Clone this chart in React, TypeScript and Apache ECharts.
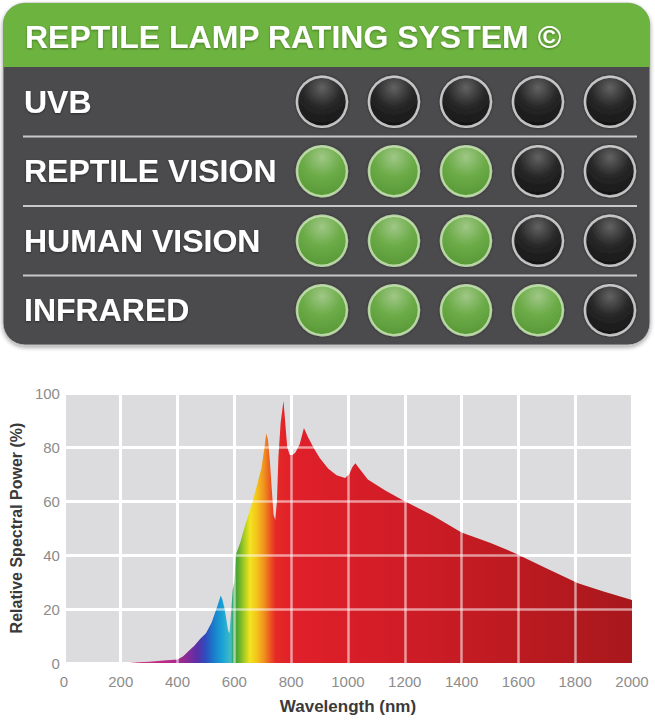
import React, { useEffect, useRef } from "react";
import * as echarts from "echarts";

// ---------- data ----------
const TITLE = "REPTILE LAMP RATING SYSTEM ©";
const ROWS = ["UVB", "REPTILE VISION", "HUMAN VISION", "INFRARED"];
const RATINGS = [0, 3, 3, 4];
const MAX_RATING = 5;

const WAVELENGTH = [
  230, 260, 300, 350, 400, 420, 440, 460, 480, 500, 520, 540, 552, 558, 565, 572, 578, 583, 588, 594,
  600, 605, 612, 622, 635, 650, 665, 680, 695, 705, 712, 718, 725, 732, 738, 744, 750, 755, 763, 773,
  780, 786, 795, 805, 815, 830, 845, 860, 880, 900, 930, 960, 990, 1005, 1015, 1026, 1040, 1070, 1130, 1190,
  1300, 1400, 1500, 1590, 1700, 1810, 1900, 2000,
];
const POWER = [
  0, 0.3, 0.5, 0.9, 1.3, 2.5, 4.5, 6.5, 9, 11, 15, 21, 25, 23.5, 20.5, 16, 12, 11, 18, 27,
  30, 40, 42, 45, 50, 55, 60, 66, 72, 79, 85, 83, 75, 64, 55, 53, 60, 76, 89, 97,
  88, 80, 77, 77, 78, 81, 87, 83.5, 79.5, 76, 72, 69.5, 68.5, 70, 72.5, 74, 72, 68, 64, 60.5,
  54.5, 48.3, 44.5, 40.6, 35, 29.5, 26.5, 23.3,
];
const X_TICKS = [0, 200, 400, 600, 800, 1000, 1200, 1400, 1600, 1800, 2000];
const Y_TICKS = [0, 20, 40, 60, 80, 100];
const X_NAME = "Wavelength (nm)";
const Y_NAME = "Relative Spectral Power (%)";

// wavelength -> colour of the fill
const SPECTRUM: [number, string][] = [
  [230, "#d03a7c"],
  [380, "#b52a85"],
  [430, "#8c2a95"],
  [470, "#5a2fa8"],
  [500, "#2c4fc0"],
  [530, "#1a80cc"],
  [560, "#1aa5d5"],
  [588, "#45bcc4"],
  [598, "#2f9a3c"],
  [615, "#5fae2e"],
  [635, "#a8cc24"],
  [655, "#f2e41e"],
  [680, "#f4c21c"],
  [705, "#f0901e"],
  [725, "#ec5a22"],
  [745, "#e52a26"],
  [800, "#e0202a"],
  [1100, "#d41d27"],
  [2000, "#a8181c"],
];

// ---------- layout ----------
const W = 655;
const H = 720;
const PANEL = { x: 3, y: 3, w: 647, h: 342, r: 22, header: 64 };
const PGRID = { left: 286, right: 9, top: 67, bottom: H - 345 };
const SGRID = { left: 53, right: 23, top: 393, bottom: 57 };

const BOLD_FONT = "'Liberation Sans', Arial, sans-serif";
const AXIS_FONT = "'Liberation Sans', Arial, sans-serif";

export default function App() {
  const ref = useRef<HTMLDivElement>(null);

  useEffect(() => {
    if (!ref.current) return;
    const chart = echarts.init(ref.current, undefined, { renderer: "svg" });

    const xmin = WAVELENGTH[0];
    const xmax = WAVELENGTH[WAVELENGTH.length - 1];
    const stops = SPECTRUM.map(([nm, c]) => ({
      offset: Math.min(1, Math.max(0, (nm - xmin) / (xmax - xmin))),
      color: c,
    }));

    const filled: [number, string][] = [];
    const empty: [number, string][] = [];
    ROWS.forEach((row, r) => {
      for (let i = 1; i <= MAX_RATING; i++) {
        if (i <= RATINGS[r]) filled.push([i, row]);
        else empty.push([i, row]);
      }
    });

    const rowH = (H - PGRID.top - PGRID.bottom) / ROWS.length;
    const separators = ROWS.slice(1).map((_, k) => {
      const y = PGRID.top + rowH * (k + 1);
      return {
        type: "line",
        z: -5,
        shape: { x1: 23, y1: y, x2: 637, y2: y },
        style: { stroke: "#c9c9c9", lineWidth: 2 },
      };
    });

    chart.setOption({
      animation: false,
      title: {
        text: TITLE,
        left: 20,
        top: 16,
        textStyle: {
          color: "#ffffff",
          fontFamily: BOLD_FONT,
          fontWeight: "bold",
          fontSize: 32,
          textShadowColor: "rgba(0,0,0,0.35)",
          textShadowBlur: 2,
          textShadowOffsetY: 1,
        },
      },
      graphic: [
        {
          type: "rect",
          z: -10,
          shape: { x: PANEL.x, y: PANEL.y, width: PANEL.w, height: PANEL.h, r: PANEL.r },
          style: {
            fill: "#4b4b4d",
            stroke: "#bdbdbd",
            lineWidth: 1,
            shadowBlur: 4,
            shadowColor: "rgba(0,0,0,0.35)",
            shadowOffsetY: 2,
          },
        },
        {
          type: "rect",
          z: -9,
          shape: {
            x: PANEL.x,
            y: PANEL.y,
            width: PANEL.w,
            height: PANEL.header,
            r: [PANEL.r, PANEL.r, 0, 0],
          },
          style: { fill: "#6db33f" },
        },
        ...separators,
      ],
      grid: [
        {
          left: SGRID.left,
          right: SGRID.right,
          top: SGRID.top,
          bottom: SGRID.bottom,
          show: true,
          backgroundColor: "#dcdcde",
          borderWidth: 0,
        },
        {
          left: PGRID.left,
          right: PGRID.right,
          top: PGRID.top,
          bottom: PGRID.bottom,
        },
      ],
      xAxis: [
        {
          type: "value",
          gridIndex: 0,
          min: X_TICKS[0],
          max: X_TICKS[X_TICKS.length - 1],
          interval: X_TICKS[1] - X_TICKS[0],
          axisLine: { show: false },
          axisTick: { show: false },
          axisLabel: {
            color: "#8c8c8c",
            fontSize: 15,
            margin: 11,
            fontFamily: AXIS_FONT,
            formatter: (v: number) => String(v),
          },
          splitLine: { show: true, lineStyle: { color: "#ffffff", width: 3 } },
          name: X_NAME,
          nameLocation: "middle",
          nameGap: 35,
          nameTextStyle: {
            color: "#3a3a3a",
            fontWeight: "bold",
            fontSize: 17,
            fontFamily: AXIS_FONT,
          },
        },
        {
          type: "value",
          gridIndex: 1,
          min: 0.5,
          max: MAX_RATING + 0.5,
          show: false,
        },
      ],
      yAxis: [
        {
          type: "value",
          gridIndex: 0,
          min: Y_TICKS[0],
          max: Y_TICKS[Y_TICKS.length - 1],
          interval: Y_TICKS[1] - Y_TICKS[0],
          axisLine: { show: false },
          axisTick: { show: false },
          axisLabel: {
            color: "#8c8c8c",
            fontSize: 15,
            margin: 4,
            fontFamily: AXIS_FONT,
            formatter: (v: number) => String(v),
          },
          splitLine: { show: true, lineStyle: { color: "#ffffff", width: 3 } },
          name: Y_NAME,
          nameLocation: "middle",
          nameGap: 31,
          nameTextStyle: {
            color: "#3a3a3a",
            fontWeight: "bold",
            fontSize: 16,
            fontFamily: AXIS_FONT,
          },
        },
        {
          type: "category",
          gridIndex: 1,
          data: ROWS,
          inverse: true,
          axisLine: { show: false },
          axisTick: { show: false },
          splitLine: { show: false },
          axisLabel: {
            color: "#ffffff",
            fontFamily: BOLD_FONT,
            fontWeight: "bold",
            fontSize: 32,
            align: "left",
            margin: PGRID.left - 24,
            textShadowColor: "rgba(0,0,0,0.45)",
            textShadowBlur: 2,
            textShadowOffsetY: 1,
          },
        },
      ],
      series: [
        {
          type: "line",
          xAxisIndex: 0,
          yAxisIndex: 0,
          data: WAVELENGTH.map((w, i) => [w, POWER[i]]),
          symbol: "none",
          lineStyle: { width: 0 },
          areaStyle: {
            opacity: 1,
            color: { type: "linear", x: 0, y: 0, x2: 1, y2: 0, colorStops: stops },
          },
          markLine: {
            silent: true,
            symbol: ["none", "none"],
            label: { show: false },
            lineStyle: { color: "rgba(255,255,255,0.55)", width: 2.5, type: "solid" },
            data: [
              ...X_TICKS.slice(1, -1).map((v) => ({ xAxis: v })),
              ...Y_TICKS.slice(1, -1).map((v) => ({ yAxis: v })),
            ],
          },
        },
        {
          type: "scatter",
          xAxisIndex: 1,
          yAxisIndex: 1,
          data: empty,
          symbolSize: 50,
          itemStyle: {
            color: {
              type: "radial",
              x: 0.5,
              y: 0.22,
              r: 0.85,
              colorStops: [
                { offset: 0, color: "#6a6a6a" },
                { offset: 0.45, color: "#262626" },
                { offset: 1, color: "#0c0c0c" },
              ],
            },
            borderColor: "#e4e4e4",
            borderWidth: 2.5,
            shadowColor: "rgba(0,0,0,0.6)",
            shadowBlur: 3,
          },
        },
        {
          type: "scatter",
          xAxisIndex: 1,
          yAxisIndex: 1,
          data: filled,
          symbolSize: 50,
          itemStyle: {
            color: {
              type: "radial",
              x: 0.5,
              y: 0.22,
              r: 0.85,
              colorStops: [
                { offset: 0, color: "#b2e194" },
                { offset: 0.45, color: "#76c14b" },
                { offset: 1, color: "#5aa633" },
              ],
            },
            borderColor: "#cfeabb",
            borderWidth: 2.5,
            shadowColor: "rgba(0,0,0,0.5)",
            shadowBlur: 3,
          },
        },
      ],
    });

    return () => chart.dispose();
  }, []);

  return (
    <div
      ref={ref}
      style={{ position: "absolute", left: 0, top: 0, width: W, height: H, background: "#ffffff" }}
    />
  );
}
